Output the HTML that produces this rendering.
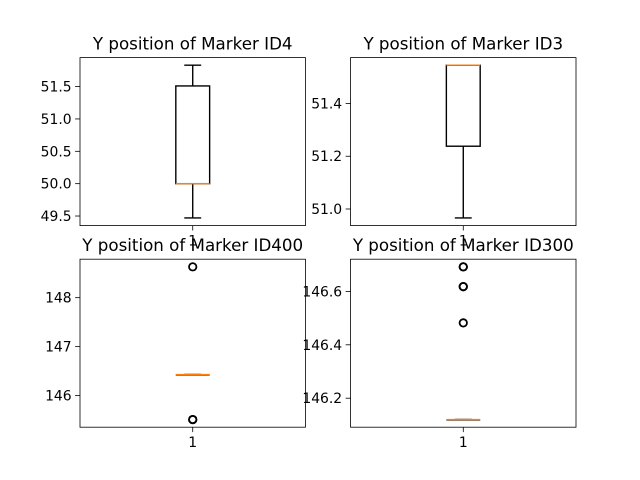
<!DOCTYPE html>
<html><head><meta charset="utf-8"><style>
html,body{margin:0;padding:0;background:#fff}
svg{display:block;font-family:"DejaVu Sans","Liberation Sans",sans-serif}
</style></head><body>
<svg id="fig" width="640" height="480" viewBox="0 0 640 480"></svg>
<script>
const titles = ["Y position of Marker ID4","Y position of Marker ID3","Y position of Marker ID400","Y position of Marker ID300"];
// stats: [whiskerLow, q1, median, q3, whiskerHigh]
const statsID4 = [49.47, 50.0, 50.0, 51.51, 51.83];
const statsID3 = [50.966, 51.238, 51.545, 51.545, 51.545];
const statsID400 = [146.43, 146.43, 146.43, 146.43, 146.43];
const statsID300 = [146.12, 146.12, 146.12, 146.12, 146.12];
const fliersID4 = [];
const fliersID3 = [];
const fliersID400 = [148.63, 145.51, 145.51];
const fliersID300 = [146.692, 146.618, 146.482, 146.692, 146.618];
const ticksID4 = [49.5, 50.0, 50.5, 51.0, 51.5];
const ticksID3 = [51.0, 51.2, 51.4];
const ticksID400 = [146, 147, 148];
const ticksID300 = [146.2, 146.4, 146.6];
const tickLabelsID4 = ["49.5","50.0","50.5","51.0","51.5"];
const tickLabelsID3 = ["51.0","51.2","51.4"];
const tickLabelsID400 = ["146","147","148"];
const tickLabelsID300 = ["146.2","146.4","146.6"];

const NS="http://www.w3.org/2000/svg";
const svg=document.getElementById('fig');
function mk(tag,attrs,parent){const e=document.createElementNS(NS,tag);for(const k in attrs)e.setAttribute(k,attrs[k]);(parent||svg).appendChild(e);return e;}

const W=225.45,H=168;
const panels=[
 {x:80,y:57.6,stats:statsID4,fl:fliersID4,ticks:ticksID4,labels:tickLabelsID4,name:'id4'},
 {x:350.55,y:57.6,stats:statsID3,fl:fliersID3,ticks:ticksID3,labels:tickLabelsID3,name:'id3'},
 {x:80,y:259.2,stats:statsID400,fl:fliersID400,ticks:ticksID400,labels:tickLabelsID400,name:'id400'},
 {x:350.55,y:259.2,stats:statsID300,fl:fliersID300,ticks:ticksID300,labels:tickLabelsID300,name:'id300'}
];
panels.forEach((p,i)=>{
  const g=mk('g',{});
  
  
  const all=p.stats.concat(p.fl);
  let lo=Math.min(...all),hi=Math.max(...all);
  let m=(hi-lo)*0.05; if(m===0)m=0.5;
  lo-=m;hi+=m;
  const ys=v=>p.y+H-(v-lo)/(hi-lo)*H;
  const xs=v=>p.x+(v-0.5)*W;
  const cx=xs(1);
  p.ticks.forEach((t,j)=>{
    const y=ys(t);
    const tk=mk('line',{x1:p.x-4.9,x2:p.x,y1:y,y2:y,stroke:'#000','stroke-width':0.8},g);
    
    
    const tl=mk('text',{x:p.x-8.4,y:y+5,'text-anchor':'end','font-size':'13.9px',fill:'#000'},g);
    tl.textContent=p.labels[j];
    
    
  });
  const xt=mk('line',{x1:cx,x2:cx,y1:p.y+H,y2:p.y+H+4.9,stroke:'#000','stroke-width':0.8},g);
  
  
  const xl=mk('text',{x:cx,y:p.y+H+20,'text-anchor':'middle','font-size':'13.9px',fill:'#000'},g);
  xl.textContent='1';
  
  
  const [wl,q1,md,q3,wh]=p.stats;
  const bw=0.15*W, cw=0.075*W;
  const lw=1.39;
  const wk1=mk('line',{x1:cx,x2:cx,y1:ys(q1),y2:ys(wl),stroke:'#000','stroke-width':lw},g);
  
  
  const wk2=mk('line',{x1:cx,x2:cx,y1:ys(q3),y2:ys(wh),stroke:'#000','stroke-width':lw},g);
  
  
  const c1=mk('line',{x1:cx-cw/2,x2:cx+cw/2,y1:ys(wl),y2:ys(wl),stroke:'#000','stroke-width':lw},g);
  
  
  const c2=mk('line',{x1:cx-cw/2,x2:cx+cw/2,y1:ys(wh),y2:ys(wh),stroke:'#000','stroke-width':lw},g);
  
  
  const bx=mk('rect',{x:cx-bw/2,y:ys(q3),width:bw,height:Math.max(0,ys(q1)-ys(q3)),fill:'none',stroke:'#000','stroke-width':lw},g);
  
  
  if(ys(q1)-ys(q3)<0.5){
    const bl=mk('line',{x1:cx-bw/2,x2:cx+bw/2,y1:ys(q1)+0.5,y2:ys(q1)+0.5,stroke:'#000','stroke-width':1.2},g);
    
    
  }
  const me=mk('line',{x1:cx-bw/2,x2:cx+bw/2,y1:ys(md),y2:ys(md),stroke:'#ff7f0e','stroke-width':lw},g);
  
  
  p.fl.forEach(v=>{
    const c=mk('circle',{cx:cx,cy:ys(v),r:3.7,fill:'none',stroke:'#000','stroke-width':1.8},g);
    
    
  });
  const fr=mk('rect',{x:p.x,y:p.y,width:W,height:H,fill:'none',stroke:'#000','stroke-width':0.8},g);
  
  
  const tt=mk('text',{x:p.x+W/2,y:p.y-8,'text-anchor':'middle','font-size':'16.7px',fill:'#000'},g);
  tt.textContent=titles[i];
  
  
});
</script>
</body></html>
